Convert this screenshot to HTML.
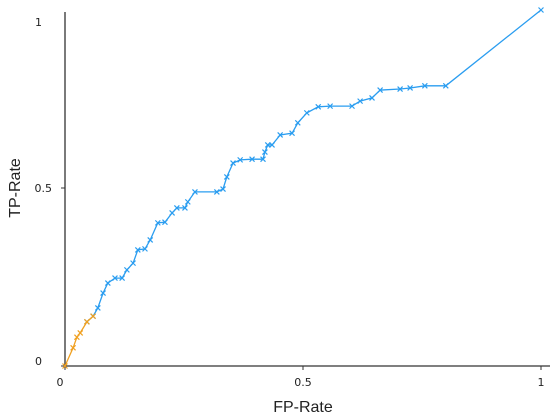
<!DOCTYPE html>
<html><head><meta charset="utf-8"><style>
body{margin:0;background:#fff;}
svg{display:block;font-family:"DejaVu Sans","Liberation Sans",sans-serif;}
</style></head><body>
<svg id="chart" width="550" height="420"></svg>
<script>
const fpOrange=[0,0.017,0.025,0.032,0.046,0.059];
const tpOrange=[0,0.051,0.081,0.093,0.124,0.140];
const fpBlue=[0.046,0.059,0.069,0.080,0.090,0.105,0.120,0.130,0.143,0.153,0.168,0.179,0.195,0.210,0.225,0.235,0.252,0.258,0.273,0.319,0.332,0.340,0.353,0.368,0.393,0.416,0.420,0.426,0.435,0.452,0.477,0.489,0.508,0.532,0.557,0.603,0.620,0.645,0.662,0.704,0.725,0.756,0.800,1];
const tpBlue=[0.124,0.140,0.163,0.205,0.233,0.247,0.247,0.270,0.289,0.326,0.329,0.354,0.402,0.404,0.430,0.444,0.444,0.461,0.489,0.489,0.497,0.531,0.570,0.579,0.581,0.581,0.601,0.621,0.621,0.649,0.654,0.683,0.711,0.728,0.730,0.730,0.744,0.753,0.775,0.778,0.781,0.787,0.787,1];
const xTicks=[0,0.5,1];
const xTickLabels=["0","0.5","1"];
const yTicks=[0,0.5,1];
const yTickLabels=["0","0.5","1"];

const svg=document.getElementById('chart');
const NS='http://www.w3.org/2000/svg';
const X0=65,X1=541,Y0=366,Y1=10;
const sx=v=>X0+v*(X1-X0);
const sy=v=>Y0-v*(Y0-Y1);
function mk(t,a){const e=document.createElementNS(NS,t);for(const k in a)e.setAttribute(k,a[k]);svg.appendChild(e);return e;}

let ax=mk('line',{x1:X0,y1:12,x2:X0,y2:Y0,stroke:'#333','stroke-width':1.3});


let bx=mk('line',{x1:X0,y1:Y0,x2:550,y2:Y0,stroke:'#333','stroke-width':1.3});



xTicks.forEach((v,i)=>{
  let t=mk('line',{x1:sx(v),y1:Y0,x2:sx(v),y2:Y0+4,stroke:'#333'});
  
  
  let l=mk('text',{x:sx(v)-(i==0?5:0),y:386,'font-size':11,'text-anchor':'middle',fill:'#222'});
  l.textContent=xTickLabels[i];
  
  
});
yTicks.forEach((v,i)=>{
  if(i<2){
    let t=mk('line',{x1:X0-4,y1:sy(v),x2:X0,y2:sy(v),stroke:'#333'});
    
    
  }
  let yy=i==0?sy(v)-1:(i==2?sy(v)+16:sy(v)+4);
  let l=mk('text',{x:i==1?52:42,y:yy,'font-size':11,'text-anchor':'end',fill:'#222'});
  l.textContent=yTickLabels[i];
  
  
});

let xt=mk('text',{x:303,y:412,'font-size':16,'text-anchor':'middle',fill:'#222','font-family':'Liberation Sans, sans-serif'});
xt.textContent='FP-Rate';


let yt=mk('text',{x:0,y:0,'font-size':16,'text-anchor':'middle',fill:'#222','font-family':'Liberation Sans, sans-serif',transform:'translate(20,188) rotate(-90)'});
yt.textContent='TP-Rate';



function series(fx,ty,color,name){
  let d=fx.map((v,i)=>(i?'L':'M')+sx(v).toFixed(1)+' '+sy(ty[i]).toFixed(1)).join(' ');
  let p=mk('path',{d:d,fill:'none',stroke:color,'stroke-width':1.3});
  
  
  fx.forEach((v,i)=>{
    const x=sx(v),y=sy(ty[i]),r=2.5;
    let m=mk('path',{d:`M${x-r} ${y-r}L${x+r} ${y+r}M${x-r} ${y+r}L${x+r} ${y-r}`,stroke:color,'stroke-width':1.2});
    
    
  });
}
series(fpBlue,tpBlue,'#2a9df0','blue-series');
series(fpOrange,tpOrange,'#f0a020','orange-series');
</script>
</body></html>
